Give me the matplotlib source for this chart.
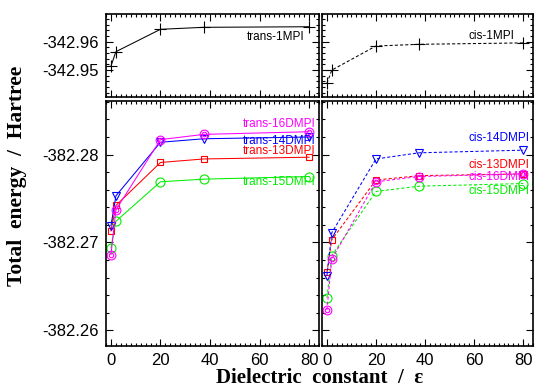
import matplotlib
matplotlib.use('Agg')
import matplotlib.pyplot as plt
from matplotlib.ticker import MultipleLocator, FormatStrFormatter

# ---- data ----
eps = [0, 2, 20, 37.5, 80]

trans_1mpi = [-342.9514, -342.9565, -342.9644, -342.9651, -342.9653]
cis_1mpi = [-342.9453, -342.9500, -342.9585, -342.9591, -342.9596]

trans_16 = [-382.2686, -382.2737, -382.2817, -382.2823, -382.2826]
trans_14 = [-382.2719, -382.2753, -382.2814, -382.2818, -382.2820]
trans_13 = [-382.2713, -382.2742, -382.2791, -382.2795, -382.2797]
trans_15 = [-382.2694, -382.2724, -382.2769, -382.2772, -382.2775]

cis_14 = [-382.2662, -382.2711, -382.2795, -382.2802, -382.2805]
cis_13 = [-382.2666, -382.2703, -382.2771, -382.2776, -382.2778]
cis_16 = [-382.2623, -382.2681, -382.2769, -382.2775, -382.2778]
cis_15 = [-382.2637, -382.2685, -382.2758, -382.2764, -382.2767]

xticks = [0, 20, 40, 60, 80]

MAG = '#ff00ff'
BLU = '#0000ff'
RED = '#ff0000'
GRN = '#00ee00'

plt.rcParams['font.family'] = ['Liberation Sans', 'DejaVu Sans']

fig = plt.figure(figsize=(5.36, 3.87), dpi=100)
W, H = 536.0, 387.0


def ax_at(x0, x1, y0, y1):
    return fig.add_axes([x0 / W, 1 - y1 / H, (x1 - x0) / W, (y1 - y0) / H])


ax_tl = ax_at(106, 319, 14, 97)
ax_tr = ax_at(322, 533, 14, 97)
ax_bl = ax_at(106, 319, 101, 346)
ax_br = ax_at(322, 533, 101, 346)

TFS = 12
for ax in (ax_tl, ax_tr, ax_bl, ax_br):
    ax.set_xlim(-2, 84)
    ax.xaxis.set_major_locator(MultipleLocator(20))
    ax.xaxis.set_minor_locator(MultipleLocator(2))
    ax.tick_params(which='both', direction='in', top=True, right=True,
                   labelsize=TFS, width=0.8)
    ax.tick_params(which='major', length=5, pad=5)
    ax.tick_params(which='minor', length=2.5)
    for s in ax.spines.values():
        s.set_linewidth(1.2)

for ax in (ax_tl, ax_tr):
    ax.set_ylim(-342.9405, -342.9698)
    ax.yaxis.set_major_locator(MultipleLocator(0.01))
    ax.yaxis.set_minor_locator(MultipleLocator(0.002))
    ax.tick_params(labelbottom=False)
for ax in (ax_bl, ax_br):
    ax.set_ylim(-382.2582, -382.2861)
    ax.yaxis.set_major_locator(MultipleLocator(0.01))
    ax.yaxis.set_minor_locator(MultipleLocator(0.002))
    ax.set_xticks(xticks)
for ax in (ax_tl, ax_bl):
    ax.yaxis.set_major_formatter(FormatStrFormatter('%.2f'))
for ax in (ax_tr, ax_br):
    ax.tick_params(labelleft=False)

LW = 0.75
solid = '-'
dash = (0, (3, 2))

# top panels
ax_tl.plot(eps, trans_1mpi, color='black', lw=LW, marker='+', ms=8, mew=0.8)
ax_tr.plot(eps, cis_1mpi, color='black', lw=LW, ls=dash, marker='+', ms=8, mew=0.8)
ax_tl.text(0.93, 0.72, 'trans-1MPI', transform=ax_tl.transAxes, ha='right', va='center', fontsize=8.5)
ax_tr.text(0.91, 0.74, 'cis-1MPI', transform=ax_tr.transAxes, ha='right', va='center', fontsize=8.5)

mk = dict(mfc='none', mew=0.8)


def series(ax, y, color, marker, ls, ms):
    ax.plot(eps, y, color=color, lw=LW, ls=ls, marker=marker, ms=ms, **mk)


def double(ax, y, color, ls):
    ax.plot(eps, y, color=color, lw=LW, ls=ls, marker='o', ms=6.3, **mk)
    ax.plot(eps, y, color=color, lw=0, marker='o', ms=3.2, **mk)


series(ax_bl, trans_15, GRN, 'o', solid, 6.5)
series(ax_bl, trans_13, RED, 's', solid, 4.3)
series(ax_bl, trans_14, BLU, 'v', solid, 5.2)
double(ax_bl, trans_16, MAG, solid)

series(ax_br, cis_15, GRN, 'o', dash, 6.5)
series(ax_br, cis_13, RED, 's', dash, 4.3)
series(ax_br, cis_14, BLU, 'v', dash, 5.2)
double(ax_br, cis_16, MAG, dash)

lfs = 8.5
for txt, y, c in [('trans-16DMPI', 124, MAG), ('trans-14DMPI', 141, BLU),
                  ('trans-13DMPI', 151.5, RED), ('trans-15DMPI', 182, GRN)]:
    ax_bl.text(0.985, 1 - (y - 101) / 245, txt, transform=ax_bl.transAxes,
               ha='right', va='center', fontsize=lfs, color=c)
for txt, y, c in [('cis-14DMPI', 138, BLU), ('cis-13DMPI', 165.5, RED),
                  ('cis-16DMPI', 177.5, MAG), ('cis-15DMPI', 191.5, GRN)]:
    ax_br.text(0.985, 1 - (y - 101) / 245, txt, transform=ax_br.transAxes,
               ha='right', va='center', fontsize=lfs, color=c)

fig.text(320 / W, 1 - 378 / H, 'Dielectric  constant  /  ε', ha='center', va='center',
         fontsize=15, fontweight='bold', family=['Liberation Serif', 'DejaVu Serif'])
fig.text(17 / W, 1 - 176 / H, 'Total  energy  /  Hartree', ha='center', va='center',
         rotation=90, fontsize=15.5, fontweight='bold', family=['Liberation Serif', 'DejaVu Serif'])

fig.savefig('out.png', dpi=100)
